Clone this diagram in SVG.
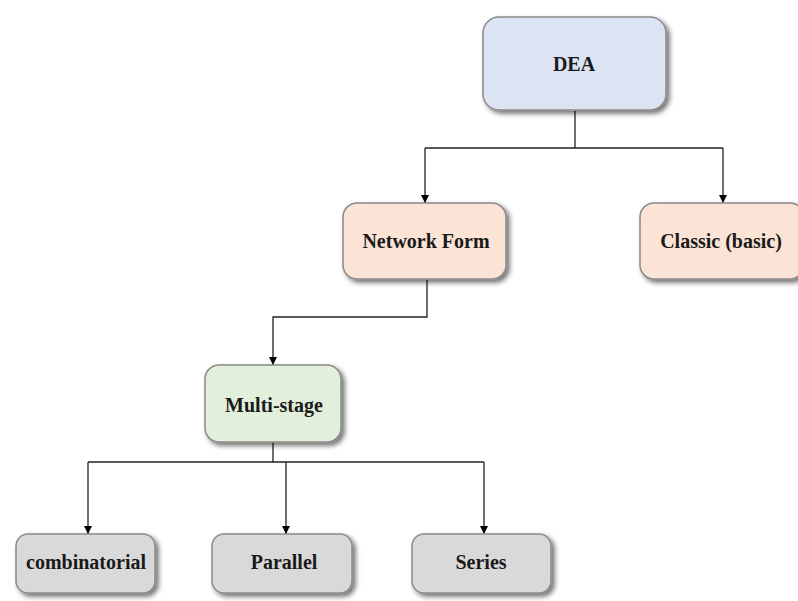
<svg xmlns="http://www.w3.org/2000/svg" width="798" height="601" viewBox="0 0 798 601">
<defs>
<filter id="sh" x="-20%" y="-20%" width="150%" height="160%">
<feDropShadow dx="3" dy="3" stdDeviation="2.5" flood-color="#000" flood-opacity="0.55"/>
</filter>
<marker id="ah" viewBox="0 0 10 10" refX="10" refY="5" markerWidth="8" markerHeight="8" orient="auto" markerUnits="userSpaceOnUse">
<path d="M0,0 L10,5 L0,10 z" fill="#000"/>
</marker>
</defs>
<style>
.box{stroke:#8a8a8a;stroke-width:1.5;filter:url(#sh)}
.blue{fill:#dce3f3}
.peach{fill:#fbe3d5}
.green{fill:#e2efda}
.gray{fill:#d9d9d9}
.lbl{font-family:"Liberation Serif","Times New Roman",serif;font-weight:bold;font-size:20px;fill:#1a1a1a;text-anchor:middle;dominant-baseline:central}
.con{fill:none;stroke:#222;stroke-width:1.3}
</style>
<rect width="798" height="601" fill="#fff"/>
<g id="connectors">
<path class="con" d="M575,111 V148 M425,148 H723"/>
<path class="con" d="M425,148 V203" marker-end="url(#ah)"/>
<path class="con" d="M723,148 V203" marker-end="url(#ah)"/>
<path class="con" d="M427,280 V317 H273 V365" marker-end="url(#ah)"/>
<path class="con" d="M273,442 V462 M88,462 H484"/>
<path class="con" d="M88,462 V534" marker-end="url(#ah)"/>
<path class="con" d="M286,462 V534" marker-end="url(#ah)"/>
<path class="con" d="M484,462 V534" marker-end="url(#ah)"/>
</g>
<g id="dea">
<rect class="box blue" x="483" y="17" width="183" height="93" rx="16"/>
<text class="lbl" x="574" y="64">DEA</text>
</g>
<g id="network-form">
<rect class="box peach" x="343" y="203" width="163" height="76" rx="14"/>
<text class="lbl" x="426" y="241">Network Form</text>
</g>
<g id="classic">
<rect class="box peach" x="640" y="203" width="164" height="76" rx="14"/>
<text class="lbl" x="721" y="241">Classic (basic)</text>
</g>
<g id="multi-stage">
<rect class="box green" x="205" y="365" width="136" height="77" rx="14"/>
<text class="lbl" x="274" y="405">Multi-stage</text>
</g>
<g id="combinatorial">
<rect class="box gray" x="16" y="534" width="139" height="59" rx="12"/>
<text class="lbl" x="86" y="562">combinatorial</text>
</g>
<g id="parallel">
<rect class="box gray" x="212" y="534" width="140" height="59" rx="12"/>
<text class="lbl" x="284" y="562">Parallel</text>
</g>
<g id="series">
<rect class="box gray" x="412" y="534" width="139" height="59" rx="12"/>
<text class="lbl" x="481" y="562">Series</text>
</g>
</svg>
